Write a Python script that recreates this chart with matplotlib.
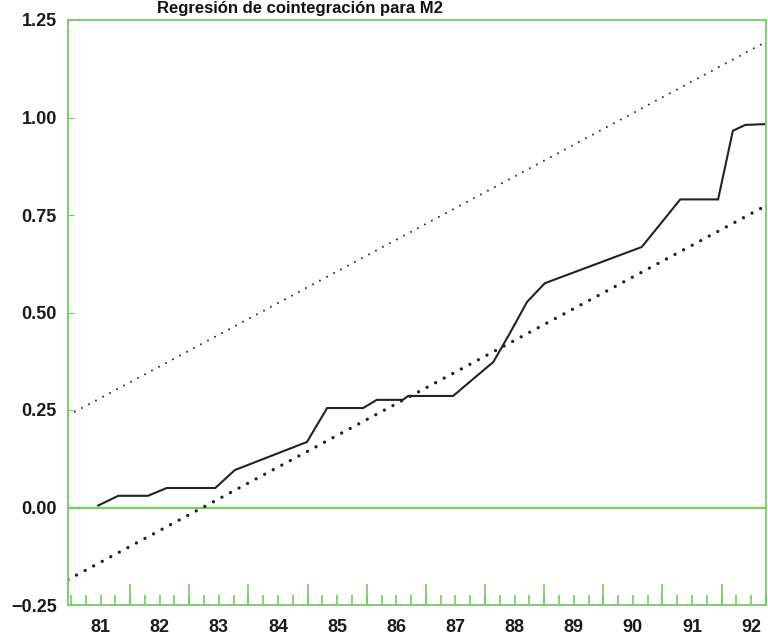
# Regresión de cointegración para M2 - recreación del gráfico escaneado
import matplotlib
matplotlib.use('Agg')
import matplotlib.pyplot as plt

# --- Datos ---
# serie observada (años decimales) y sus valores
fechas = [1981.46, 1981.80, 1982.30, 1982.62, 1983.44, 1983.77, 1984.99, 1985.33,
          1985.94, 1986.17, 1986.61, 1986.70, 1987.46, 1987.92, 1988.14, 1988.42,
          1988.71, 1989.01, 1990.65, 1991.30, 1991.94, 1992.19, 1992.40, 1992.75]
valores = [0.005, 0.03, 0.03, 0.05, 0.05, 0.096, 0.168, 0.255,
           0.255, 0.276, 0.276, 0.286, 0.286, 0.345, 0.373, 0.447,
           0.527, 0.575, 0.668, 0.79, 0.79, 0.966, 0.981, 0.983]

# rectas de tendencia (extremos)
fechas_tendencia = [1980.95, 1992.75]
banda_superior = [0.236, 1.194]
banda_inferior = [-0.185, 0.774]

anios = list(range(1981, 1993))
etiquetas_anios = [str(a)[2:] for a in anios]
ticks_y = [-0.25, 0.0, 0.25, 0.50, 0.75, 1.00, 1.25]

VERDE = '#6fcf5f'
FUENTE = ['Liberation Sans Narrow', 'Liberation Sans', 'DejaVu Sans']

fig = plt.figure(figsize=(7.68, 6.39), dpi=100)
ax = fig.add_axes([68 / 768, 1 - 605 / 639, 698 / 768, 585 / 639])

# líneas
ax.plot(fechas, valores, color='#222222', linewidth=1.5, solid_joinstyle='miter')
ax.plot(fechas_tendencia, banda_superior, color='#333333', linewidth=1.5,
        linestyle=(0, (0.01, 3.8)), dash_capstyle='round')
ax.plot(fechas_tendencia, banda_inferior, color='#222222', linewidth=2.4,
        linestyle=(0, (0.01, 2.9)), dash_capstyle='round')
ax.axhline(0.0, color=VERDE, linewidth=1.6, zorder=1)

ax.set_xlim(1980.95, 1992.75)
ax.set_ylim(-0.25, 1.25)

# ejes verdes
for lado in ['left', 'right', 'top', 'bottom']:
    ax.spines[lado].set_color(VERDE)
    ax.spines[lado].set_linewidth(1.3)

# eje y
ax.set_yticks(ticks_y)
ax.set_yticklabels(['\u22120.25', '0.00', '0.25', '0.50', '0.75', '1.00', '1.25'])
ax.tick_params(axis='y', direction='in', length=4, color=VERDE, pad=8)

# eje x: etiquetas centradas en cada año, marcas trimestrales
ax.xaxis.remove_overlapping_locs = False
ax.set_xticks([a + 0.5 for a in anios])
ax.set_xticklabels(etiquetas_anios)
ax.set_xticks([a + q / 4 for a in range(1981, 1993) for q in range(4)], minor=True)
ax.tick_params(axis='x', which='major', length=0, pad=10)
ax.tick_params(axis='x', which='minor', direction='in', length=7, color=VERDE, width=1.2)

# marcas largas al inicio de cada año
sec = ax.secondary_xaxis('bottom')
sec.set_xticks(anios[1:])
sec.set_xticklabels([])
sec.tick_params(direction='in', length=15, color=VERDE, width=1.2)
sec.spines['bottom'].set_visible(False)

for lab in ax.get_xticklabels() + ax.get_yticklabels():
    lab.set_family(FUENTE)
    lab.set_fontweight('bold')
    lab.set_fontsize(13)
    lab.set_color('#1a1a1a')

# título
fig.text(0.39, 1 - 13 / 639, 'Regresión de cointegración para M2', ha='center',
         va='baseline', fontsize=12, fontweight='bold', family=FUENTE, color='#111111')

fig.savefig('out.png', dpi=100)
